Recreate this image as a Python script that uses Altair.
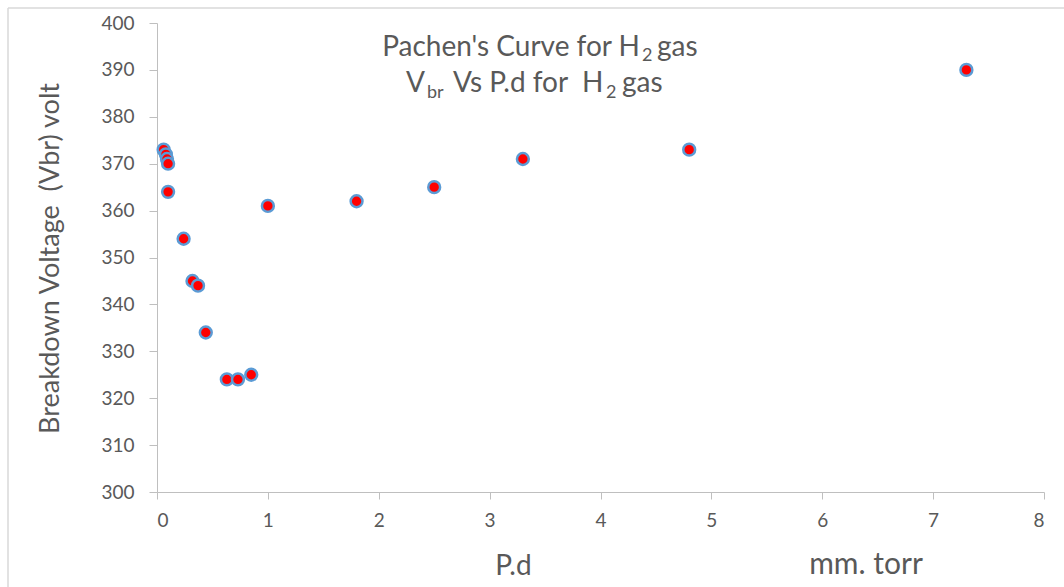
import altair as alt
import pandas as pd

# Pachen's curve measurements for hydrogen
pd_values = [0.06, 0.08, 0.09, 0.10, 0.10, 0.24, 0.32, 0.37, 0.44, 0.63, 0.73, 0.85,
             1.0, 1.8, 2.5, 3.3, 4.8, 7.3]
vbr_values = [373, 372, 371, 370, 364, 354, 345, 344, 334, 324, 324, 325,
              361, 362, 365, 371, 373, 390]

x_ticks = list(range(0, 9))
y_ticks = list(range(300, 401, 10))

FONT = "Lato"
TEXT = "#595959"
AXIS = "#bfbfbf"

df = pd.DataFrame({"pd": pd_values, "vbr": vbr_values})
one = alt.Data(values=[{}])

W, H = 887, 469

points = alt.Chart(df).mark_circle(
    size=140, color="#ff0000", stroke="#5b9bd5", strokeWidth=2.5, opacity=1
).encode(
    x=alt.X("pd:Q", scale=alt.Scale(domain=[0, 8], nice=False),
            axis=alt.Axis(values=x_ticks, title="P.d", titleX=356, titleY=82,
                          titleAlign="center", titleBaseline="alphabetic",
                          titleFontSize=28, titleFont=FONT, titleColor=TEXT,
                          titleFontWeight="normal",
                          labelFontSize=19, labelFont=FONT, labelColor=TEXT,
                          labelPadding=12, tickSize=7, tickColor=AXIS,
                          domainColor=AXIS, grid=False)),
    y=alt.Y("vbr:Q", scale=alt.Scale(domain=[300, 400], nice=False, zero=False),
            axis=alt.Axis(values=y_ticks, title="Breakdown Voltage \u00a0(Vbr) volt",
                          titleX=-107, titleY=235, titleAngle=270,
                          titleAlign="center", titleBaseline="middle",
                          titleFontSize=27, titleFont=FONT, titleColor=TEXT,
                          titleFontWeight="normal",
                          labelFontSize=19, labelFont=FONT, labelColor=TEXT,
                          labelPadding=15, tickSize=8, tickColor=AXIS,
                          domainColor=AXIS, grid=False)),
)


def label(text, x, y, size=28, align="left"):
    return alt.Chart(one).mark_text(
        text=text, font=FONT, fontSize=size, color=TEXT, align=align,
        baseline="alphabetic"
    ).encode(x=alt.value(x), y=alt.value(y))


# two-line chart heading with subscripts
heading = [
    label("Pachen's Curve for H", 483, 33, align="right"),
    label("2", 485, 38, size=18),
    label("gas", 500, 33),
    label("V", 268, 69, align="right"),
    label("br", 270, 75, size=18),
    label("Vs P.d for \u00a0H", 296, 69),
    label("2", 449, 75, size=18),
    label("gas", 465, 69),
]

unit = label("mm. torr", 709, 551, size=30, align="center")

# light frame around the chart
frame_top = alt.Chart(one).mark_rule(color="#d9d9d9", strokeWidth=1.5).encode(
    x=alt.value(-149), x2=alt.value(W + 20), y=alt.value(-15))
frame_left = alt.Chart(one).mark_rule(color="#d9d9d9", strokeWidth=1.5).encode(
    x=alt.value(-149), y=alt.value(-15), y2=alt.value(H + 95))

chart = alt.layer(frame_top, frame_left, points, *heading, unit).properties(
    width=W, height=H,
    autosize=alt.AutoSizeParams(type="none"),
    padding={"left": 157, "top": 23, "right": 20, "bottom": 95},
    background="white",
).configure_view(strokeWidth=0)

chart.save("out.html", embed_options={"renderer": "svg", "actions": False})
